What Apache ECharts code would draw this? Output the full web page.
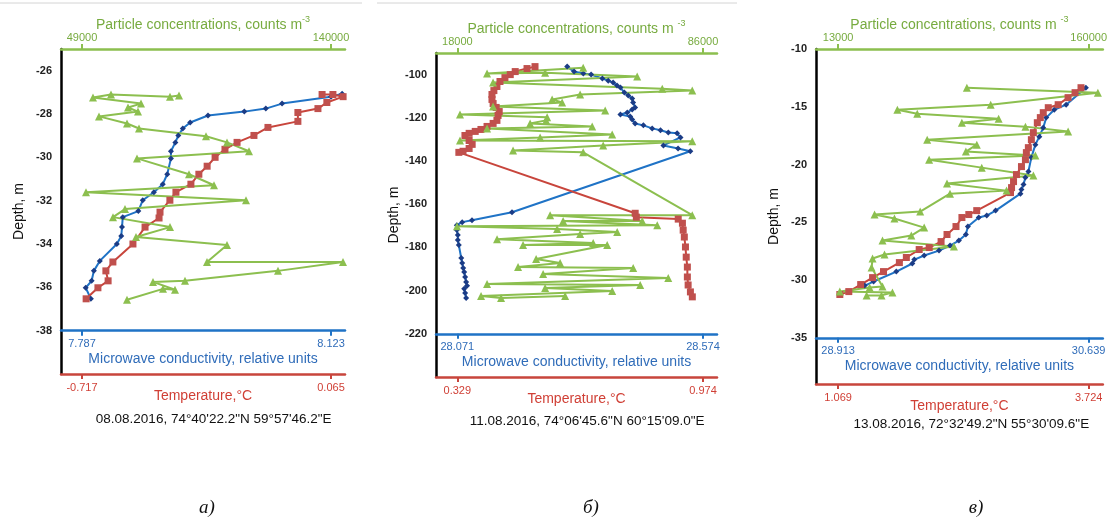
<!DOCTYPE html>
<html>
<head>
<meta charset="utf-8">
<script src="https://cdn.jsdelivr.net/npm/echarts@6/dist/echarts.min.js"></script>
<style>html,body{margin:0;padding:0;background:#fff}#c{width:1110px;height:517px}</style>
</head>
<body>
<div id="c"></div>
<script>
// ---------- tick labels ----------
const aDepthTicks = [-38, -36, -34, -32, -30, -28, -26];
const bDepthTicks = [-220, -200, -180, -160, -140, -120, -100];
const cDepthTicks = [-35, -30, -25, -20, -15, -10];
const aParticleTicks = [49000, 140000];
const bParticleTicks = [18000, 86000];
const cParticleTicks = [13000, 160000];
const aConductTicks = [7.787, 8.123];
const bConductTicks = [28.071, 28.574];
const cConductTicks = [28.913, 30.639];
const aTempTicks = [-0.717, 0.065];
const bTempTicks = [0.329, 0.974];
const cTempTicks = [1.069, 3.724];
const captions = ['08.08.2016, 74°40\'22.2"N 59°57\'46.2"E', '11.08.2016, 74°06\'45.6"N 60°15\'09.0"E', '13.08.2016, 72°32\'49.2"N 55°30\'09.6"E'];
const letters = ['а)', 'б)', 'в)'];

// ---------- series: [value, depth] ----------
const aConductivity = [[8.138,-27.06],[8.123,-27.20],[8.057,-27.52],[8.035,-27.75],[8.006,-27.89],[7.957,-28.07],[7.933,-28.39],[7.923,-28.67],[7.917,-28.99],[7.913,-29.31],[7.907,-29.72],[7.907,-30.05],[7.902,-30.78],[7.896,-31.24],[7.884,-31.61],[7.869,-31.98],[7.863,-32.48],[7.842,-32.76],[7.841,-33.22],[7.840,-33.63],[7.834,-34.00],[7.811,-34.78],[7.803,-35.24],[7.800,-35.70],[7.792,-36.02],[7.799,-36.53]];
const aTemperature = [[0.037,-27.10],[0.071,-27.10],[0.103,-27.20],[0.052,-27.47],[0.024,-27.75],[-0.039,-27.93],[-0.039,-28.34],[-0.133,-28.62],[-0.177,-28.99],[-0.230,-29.31],[-0.268,-29.63],[-0.299,-30.00],[-0.324,-30.41],[-0.350,-30.78],[-0.375,-31.24],[-0.422,-31.61],[-0.441,-31.98],[-0.472,-32.53],[-0.475,-32.80],[-0.519,-33.22],[-0.557,-34.00],[-0.620,-34.83],[-0.642,-35.24],[-0.635,-35.70],[-0.667,-36.02],[-0.704,-36.53]];
const aParticles = [[84454,-27.15],[81164,-27.20],[59600,-27.10],[53020,-27.24],[70565,-27.52],[65813,-27.70],[69468,-27.89],[55214,-28.11],[65448,-28.44],[69834,-28.67],[94322,-29.03],[101998,-29.31],[110039,-29.72],[69103,-30.05],[88109,-30.78],[97246,-31.29],[50462,-31.61],[108942,-31.98],[64717,-32.39],[60331,-32.76],[81164,-33.22],[68737,-33.68],[101998,-34.05],[94688,-34.83],[144396,-34.83],[120638,-35.24],[86647,-35.70],[74951,-35.75],[82992,-36.11],[78606,-36.07],[65448,-36.57]];

const bConductivity = [[28.296,-96.3],[28.310,-98.6],[28.329,-99.5],[28.345,-100.0],[28.368,-101.8],[28.380,-102.8],[28.390,-103.7],[28.398,-105.1],[28.405,-106.0],[28.413,-108.3],[28.421,-109.7],[28.429,-111.1],[28.431,-112.9],[28.435,-115.2],[28.429,-116.2],[28.419,-117.5],[28.405,-118.5],[28.425,-119.4],[28.429,-120.8],[28.435,-122.6],[28.452,-123.5],[28.470,-124.9],[28.487,-125.8],[28.503,-126.8],[28.521,-127.2],[28.528,-129.1],[28.493,-132.8],[28.523,-134.2],[28.548,-135.5],[28.183,-163.7],[28.101,-167.4],[28.081,-168.3],[28.070,-169.7],[28.070,-172.0],[28.072,-174.3],[28.072,-176.6],[28.074,-178.9],[28.079,-184.9],[28.081,-187.2],[28.083,-189.5],[28.085,-191.4],[28.087,-193.7],[28.089,-196.0],[28.091,-197.8],[28.085,-199.2],[28.087,-201.1],[28.089,-203.4]];
const bTemperature = [[0.533,-96.3],[0.512,-97.2],[0.481,-98.6],[0.468,-100.0],[0.454,-101.4],[0.441,-103.2],[0.433,-105.5],[0.425,-107.4],[0.420,-109.2],[0.420,-111.5],[0.423,-113.4],[0.431,-115.2],[0.439,-117.1],[0.436,-118.9],[0.433,-121.2],[0.423,-122.6],[0.407,-124.0],[0.391,-125.4],[0.376,-126.3],[0.360,-127.2],[0.349,-128.2],[0.360,-130.5],[0.368,-132.3],[0.360,-134.2],[0.344,-135.5],[0.333,-136.0],[0.796,-164.2],[0.799,-166.0],[0.909,-166.9],[0.920,-168.8],[0.922,-172.0],[0.925,-175.2],[0.928,-179.8],[0.930,-184.5],[0.933,-189.1],[0.933,-193.7],[0.935,-197.4],[0.941,-200.6],[0.946,-202.9]];
const bParticles = [[52832,-96.8],[26230,-99.5],[42302,-99.1],[67795,-100.9],[27892,-103.7],[74722,-106.5],[83035,-107.4],[52000,-109.2],[44241,-111.5],[47012,-112.9],[27892,-114.8],[58928,-116.6],[18748,-118.5],[42856,-119.8],[42579,-121.2],[38145,-122.6],[55325,-124.0],[26230,-124.9],[60867,-127.7],[40916,-129.1],[18748,-130.5],[83035,-130.9],[58374,-132.8],[33434,-135.1],[52832,-136.0],[83035,-165.1],[43687,-165.1],[69180,-167.8],[47289,-167.8],[73337,-169.7],[17917,-170.2],[45627,-171.5],[62253,-172.9],[52000,-173.8],[29001,-176.2],[55603,-178.0],[36205,-178.9],[59482,-178.9],[39808,-185.4],[46458,-187.2],[34820,-189.1],[66687,-189.5],[41747,-192.3],[76385,-194.2],[26230,-196.9],[68626,-197.4],[42302,-198.8],[60867,-200.2],[24567,-202.5],[30109,-203.4],[47844,-202.5]];

const cConductivity = [[30.620,-13.35],[30.484,-14.82],[30.402,-15.26],[30.347,-15.94],[30.326,-16.81],[30.299,-17.59],[30.272,-18.28],[30.244,-19.40],[30.224,-20.61],[30.203,-21.13],[30.190,-21.74],[30.176,-22.17],[30.169,-22.52],[29.998,-23.99],[29.937,-24.42],[29.882,-24.59],[29.807,-25.37],[29.793,-26.06],[29.745,-26.58],[29.684,-27.02],[29.608,-27.45],[29.506,-27.88],[29.438,-28.23],[29.424,-28.57],[29.314,-29.27],[29.157,-30.13],[29.096,-30.48]];
const cTemperature = [[3.643,-13.35],[3.580,-13.78],[3.506,-14.21],[3.401,-14.82],[3.296,-15.08],[3.243,-15.51],[3.212,-15.94],[3.180,-16.38],[3.138,-17.24],[3.117,-17.85],[3.085,-18.54],[3.064,-18.97],[3.054,-19.58],[3.012,-20.18],[2.959,-20.87],[2.928,-21.48],[2.907,-22.00],[2.896,-22.43],[2.538,-23.99],[2.454,-24.33],[2.381,-24.59],[2.318,-25.37],[2.223,-26.06],[2.160,-26.67],[2.034,-27.19],[1.928,-27.36],[1.792,-28.05],[1.718,-28.49],[1.550,-29.27],[1.434,-29.79],[1.308,-30.39],[1.182,-31.00],[1.087,-31.25]];
const cParticles = [[88537,-13.35],[165414,-13.78],[102515,-14.82],[47769,-15.26],[59417,-15.60],[107174,-16.03],[85625,-16.38],[122899,-16.72],[147942,-17.15],[65241,-17.85],[94361,-18.28],[87955,-18.88],[128723,-19.23],[66406,-19.58],[97273,-20.27],[127558,-20.96],[76889,-21.65],[111833,-22.26],[78636,-22.52],[61164,-24.07],[34374,-24.33],[46022,-24.68],[63494,-25.46],[55923,-26.15],[39033,-26.58],[80966,-27.10],[40198,-27.79],[33209,-28.14],[32627,-28.92],[39033,-30.56],[31462,-30.65],[13990,-30.99],[44857,-31.08],[38451,-31.33],[29715,-31.33]];

// ---------- styles ----------
const GREEN = '#8cbf4f', GREEN_T = '#77ab3f';
const BLUE = '#1f73c6', BLUE_M = '#1b3c86', BLUE_T = '#2f6cb9';
const RED = '#c8453c', RED_M = '#c0504d', RED_T = '#d03f35';

const panels = [
  {grid:{left:61, top:49, width:284, height:325}, depth:[-40,-25], blueAt:-38, pad:[21/249, 14/249],
   dTicks:aDepthTicks, pT:aParticleTicks, cT:aConductTicks, tT:aTempTicks,
   cond:aConductivity, temp:aTemperature, part:aParticles, sup:'m', capTop:407},
  {grid:{left:436, top:53, width:281, height:324}, depth:[-240,-90], blueAt:-220, pad:[21.3/245.4, 14/245.4],
   dTicks:bDepthTicks, pT:bParticleTicks, cT:bConductTicks, tT:bTempTicks,
   cond:bConductivity, temp:bTemperature, part:bParticles, sup:'m ', capTop:409},
  {grid:{left:816, top:49, width:289, height:335}, depth:[-39,-10], blueAt:-35, pad:[22.3/252.4, 14.3/252.4],
   dTicks:cDepthTicks, pT:cParticleTicks, cT:cConductTicks, tT:cTempTicks,
   cond:cConductivity, temp:cTemperature, part:cParticles, sup:'m ', capTop:412}
];

function ext(t, pad){ const s = t[1]-t[0]; return [t[0]-s*pad[0], t[1]+s*pad[1]]; }

const grids = [], xAxes = [], yAxes = [], series = [], titles = [];
const lblFont = 'Liberation Sans, Arial, sans-serif';
panels.forEach((p, i) => {
  grids.push(Object.assign({containLabel:false}, p.grid));
  const blueOffset = -p.grid.height * (p.blueAt - p.depth[0]) / (p.depth[1] - p.depth[0]);
  const mk = (ticks, color, tcolor, position, offset, name, nameGap, nameStyle, margin) => {
    const e = ext(ticks, p.pad);
    return {
      gridIndex:i, type:'value', position, offset, min:e[0], max:e[1],
      axisLine:{show:true, onZero:false, lineStyle:{color, width:2.5}},
      axisTick:{show:true, customValues:ticks, length:5, lineStyle:{color, width:2}},
      axisLabel:{show:true, customValues:ticks, color:tcolor, fontSize:11, fontFamily:lblFont, margin, formatter:v=>String(v)},
      splitLine:{show:false},
      name, nameLocation:'middle', nameGap, nameMoveOverlap:false, nameTextStyle:nameStyle
    };
  };
  xAxes.push(mk(p.pT, GREEN, GREEN_T, 'top', 0,
    'Particle concentrations, counts ' + p.sup + '{sup|-3}', 14,
    {color:GREEN_T, fontSize:14, fontFamily:lblFont, lineHeight:20, rich:{sup:{fontSize:9, color:GREEN_T, lineHeight:8, verticalAlign:'top', fontFamily:lblFont}}}, 6));
  xAxes.push(mk(p.cT, BLUE, BLUE_T, 'bottom', blueOffset,
    'Microwave conductivity, relative units', 21, {color:BLUE_T, fontSize:14, fontFamily:lblFont}, 8));
  xAxes.push(mk(p.tT, RED, RED_T, 'bottom', 0,
    'Temperature,°C', 15, {color:RED_T, fontSize:14, fontFamily:lblFont}, 8));
  yAxes.push({
    gridIndex:i, type:'value', min:p.depth[0], max:p.depth[1],
    axisLine:{show:true, onZero:false, lineStyle:{color:'#000', width:2.5}},
    axisTick:{show:false}, splitLine:{show:false},
    axisLabel:{customValues:p.dTicks, color:'#222', fontSize:11, fontWeight:'bold', fontFamily:lblFont, margin:9},
    name:'Depth, m', nameLocation:'middle', nameGap:35, nameRotate:90, nameMoveOverlap:false,
    nameTextStyle:{color:'#111', fontSize:14, fontFamily:lblFont}
  });
  const base = {type:'line', yAxisIndex:i, showSymbol:true, animation:false, clip:false};
  series.push(Object.assign({}, base, {xAxisIndex:3*i+1, data:p.cond, symbol:'diamond', symbolSize:6,
    lineStyle:{color:BLUE, width:2}, itemStyle:{color:BLUE_M, borderWidth:0}}));
  series.push(Object.assign({}, base, {xAxisIndex:3*i+2, data:p.temp, symbol:'rect', symbolSize:7,
    lineStyle:{color:RED, width:2}, itemStyle:{color:RED_M, borderWidth:0}}));
  series.push(Object.assign({}, base, {xAxisIndex:3*i, data:p.part, symbol:'triangle', symbolSize:8,
    lineStyle:{color:GREEN, width:2}, itemStyle:{color:GREEN, borderWidth:0}}));
  const cx = p.grid.left + p.grid.width * 0.52;
  titles.push({text:captions[i], left:cx, top:p.capTop, textAlign:'center',
    textStyle:{fontSize:13.5, fontWeight:'normal', color:'#111', fontFamily:lblFont}});
});
titles.push({text:letters[0], left:202, top:493, textAlign:'center', textStyle:{fontSize:19, fontStyle:'italic', fontWeight:'normal', color:'#111', fontFamily:'Liberation Serif, serif'}});
titles.push({text:letters[1], left:586, top:493, textAlign:'center', textStyle:{fontSize:19, fontStyle:'italic', fontWeight:'normal', color:'#111', fontFamily:'Liberation Serif, serif'}});
titles.push({text:letters[2], left:971, top:493, textAlign:'center', textStyle:{fontSize:19, fontStyle:'italic', fontWeight:'normal', color:'#111', fontFamily:'Liberation Serif, serif'}});

const chart = echarts.init(document.getElementById('c'), null, {renderer:'canvas'});
chart.setOption({
  animation:false,
  backgroundColor:'#fff',
  title: titles,
  grid: grids, xAxis: xAxes, yAxis: yAxes, series,
  graphic: [
    {type:'line', shape:{x1:0, y1:3, x2:362, y2:3}, style:{stroke:'#d4d4d4', lineWidth:1}, silent:true},
    {type:'line', shape:{x1:377, y1:3, x2:737, y2:3}, style:{stroke:'#d4d4d4', lineWidth:1}, silent:true}
  ]
});
</script>
</body>
</html>
